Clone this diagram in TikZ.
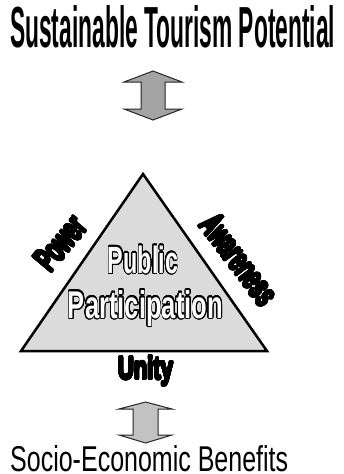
\documentclass[tikz,border=0pt]{standalone}
\usepackage{graphicx}
\usepackage{fontspec}
\setmainfont{Liberation Sans}
\usepackage[copies]{contour}
\contourlength{0.8pt}
\contournumber{32}

\begin{document}
\begin{tikzpicture}[x=1pt, y=-1pt,
    bigarrow/.style={draw=black!85, line width=1pt, line join=miter, fill=black!36},
    sidelabel/.style={inner sep=0, font=\fontsize{20pt}{22pt}\selectfont\bfseries},
    hollow/.style={anchor=base, inner sep=0, font=\fontsize{28pt}{30pt}\selectfont\bfseries}]
  \useasboundingbox (0,0) rectangle (344,474);

  % Title
  \node[anchor=base west, inner sep=0, font=\fontsize{40pt}{44pt}\selectfont\bfseries] (potential) at (10,47)
    {\resizebox{325pt}{42pt}{Sustainable Tourism Potential}};

  % Upper double arrow
  \draw[bigarrow] (153,71) -- (182,82) -- (165,82) -- (165,109) -- (182,109) -- (153,120)
    -- (124,109) -- (141,109) -- (141,82) -- (124,82) -- cycle;

  % Triangle
  \coordinate (apex) at (143,174);
  \coordinate (left) at (21,351);
  \coordinate (right) at (267,351);
  \draw[line width=2.5pt, line join=miter, fill=black!14] (apex) -- (left) -- (right) -- cycle;

  % Side labels
  \node[sidelabel, rotate=50] (power) at (61,243.5)
    {\resizebox{59pt}{24pt}{\contour{black}{Power}}};
  \node[sidelabel, rotate=-53] (awareness) at (239,260)
    {\resizebox{104pt}{24pt}{\contour{black}{Awareness}}};
  \node[sidelabel, anchor=base] (unity) at (145.5,379)
    {\resizebox{55pt}{23pt}{\contour{black}{Unity}}};

  % Centre label
  \node[hollow] (public) at (143,273)
    {\resizebox{70pt}{27.5pt}{\textcolor{white}{\contour{black}{Public}}}};
  \node[hollow] (participation) at (145.5,318)
    {\resizebox{155pt}{28pt}{\textcolor{white}{\contour{black}{Participation}}}};

  % Lower double arrow
  \draw[bigarrow, fill=black!24] (145.5,402) -- (172,409) -- (158,409) -- (158,435) -- (172,435) -- (145.5,443)
    -- (119,435) -- (133,435) -- (133,409) -- (119,409) -- cycle;

  % Bottom text
  \node[anchor=base west, inner sep=0, font=\fontsize{28pt}{30pt}\selectfont] (benefits) at (10,471)
    {\resizebox{278pt}{26pt}{Socio-Economic Benefits}};
\end{tikzpicture}
\end{document}
